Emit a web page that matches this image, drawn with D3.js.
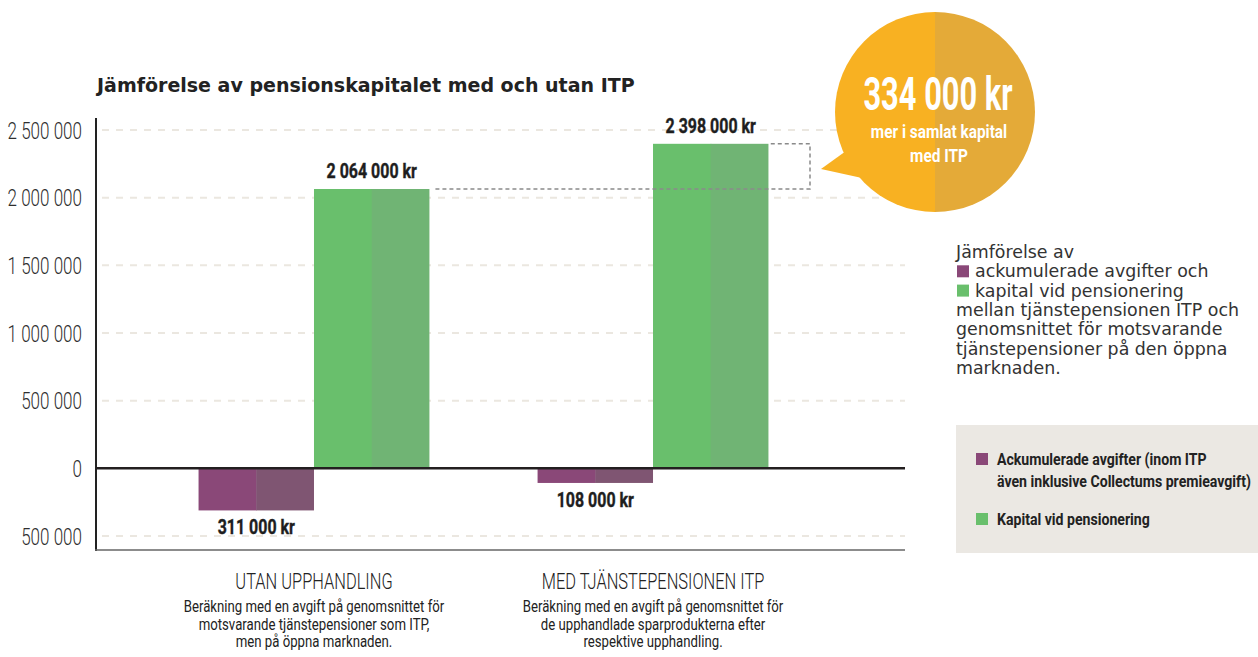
<!doctype html>
<html>
<head>
<meta charset="utf-8"/>
<title>Jämförelse av pensionskapitalet</title>
<script src="https://cdnjs.cloudflare.com/ajax/libs/d3/7.8.5/d3.min.js"></script>
<style>
  body { margin: 0; background: #fff; }
  svg { display: block; }
  .narrow { font-family: "Roboto", "DejaVu Sans Condensed", sans-serif; }
  .grid line { stroke: #ebe7e0; stroke-width: 2px; stroke-dasharray: 7,7; }
  .desc { font-family: "DejaVu Sans", sans-serif; font-size: 17.4px; fill: #333; }
</style>
</head>
<body>
<svg width="1258" height="657"></svg>
<script>
// data
var groups = ["UTAN UPPHANDLING", "MED TJÄNSTEPENSIONEN ITP"];
var series = ["Ackumulerade avgifter", "Kapital vid pensionering"];
var fees = [-311000, -108000];
var capital = [2064000, 2398000];
var valueLabels = [["311 000 kr", "2 064 000 kr"], ["108 000 kr", "2 398 000 kr"]];
var yTicks = [-500000, 0, 500000, 1000000, 1500000, 2000000, 2500000];
var groupNotes = [
  ["Beräkning med en avgift på genomsnittet för", "motsvarande tjänstepensioner som ITP,", "men på öppna marknaden."],
  ["Beräkning med en avgift på genomsnittet för", "de upphandlade sparprodukterna efter", "respektive upphandling."]
];
var difference = "334 000 kr";

var colors = { fee: ["#8a4878", "#7f5572"], cap: ["#69bf6c", "#70b474"] };

var svg = d3.select("svg");

var y = d3.scaleLinear().domain([-500000, 2500000]).range([536, 130]);
var x = d3.scaleBand().domain(groups).range([96, 871]).paddingInner(0.319).paddingOuter(0.3025);
var xs = d3.scaleBand().domain(series).range([0, x.bandwidth()]);

var fmt = function(v) { return d3.format(",")(Math.abs(v)).replace(/,/g, " "); };

// squeeze text sideways, the print font is a narrow one
function condense(sel, k) {
  sel.each(function() {
    var t = d3.select(this);
    var tx = +t.attr("x") || 0, ty = +t.attr("y") || 0;
    t.attr("x", 0).attr("y", 0).attr("transform", "translate(" + tx + "," + ty + ") scale(" + k + ",1)");
  });
}

// title
svg.append("text").attr("x", 97).attr("y", 92)
  .style("font-family", "'DejaVu Sans', sans-serif").style("font-weight", "bold")
  .style("font-size", "19px").style("fill", "#222")
  .text("Jämförelse av pensionskapitalet med och utan ITP");

// grid
var grid = svg.append("g").attr("class", "grid");
grid.selectAll("line").data(yTicks.filter(function(t) { return t !== 0; })).enter().append("line")
  .attr("x1", 102).attr("x2", 905)
  .attr("y1", function(d) { return y(d); }).attr("y2", function(d) { return y(d); });

// y axis
var yAxis = svg.append("g").attr("transform", "translate(96,0)")
  .call(d3.axisLeft(y).tickValues(yTicks).tickSize(0).tickPadding(14).tickFormat(fmt));
yAxis.select(".domain").remove();
yAxis.selectAll("text").attr("class", "narrow").attr("dy", null)
  .attr("dominant-baseline", "central")
  .style("font-size", "24px").style("font-weight", 300).style("fill", "#2e2e2e")
  .call(condense, 0.71);

svg.append("line").attr("x1", 96).attr("x2", 96).attr("y1", 118).attr("y2", 551)
  .style("stroke", "#222").style("stroke-width", 2);
svg.append("line").attr("x1", 95).attr("x2", 905).attr("y1", 550).attr("y2", 550)
  .style("stroke", "#666").style("stroke-width", 1.5);

// bars
var rows = groups.map(function(g, i) {
  return [
    { g: g, s: series[0], v: fees[i], c: colors.fee, label: valueLabels[i][0] },
    { g: g, s: series[1], v: capital[i], c: colors.cap, label: valueLabels[i][1] }
  ];
});
var flat = rows[0].concat(rows[1]);

var barG = svg.append("g");
var bar = barG.selectAll("g").data(flat).enter().append("g")
  .attr("transform", function(d) { return "translate(" + (x(d.g) + xs(d.s)) + ",0)"; });
bar.append("rect")
  .attr("x", 0).attr("width", xs.bandwidth() / 2 + 0.5)
  .attr("y", function(d) { return y(Math.max(0, d.v)); })
  .attr("height", function(d) { return Math.abs(y(d.v) - y(0)); })
  .style("fill", function(d) { return d.c[0]; });
bar.append("rect")
  .attr("x", xs.bandwidth() / 2).attr("width", xs.bandwidth() / 2)
  .attr("y", function(d) { return y(Math.max(0, d.v)); })
  .attr("height", function(d) { return Math.abs(y(d.v) - y(0)); })
  .style("fill", function(d) { return d.c[1]; });
bar.append("text").attr("class", "narrow")
  .attr("x", xs.bandwidth() / 2)
  .attr("y", function(d) { return d.v < 0 ? y(d.v) + 24 : y(d.v) - 11; })
  .attr("text-anchor", "middle")
  .style("font-weight", "bold").style("font-size", "21px").style("fill", "#1e1e1e")
  .style("stroke", "#1e1e1e").style("stroke-width", 0.4)
  .text(function(d) { return d.label; })
  .call(condense, 0.76);

// zero line
svg.append("line").attr("x1", 96).attr("x2", 905).attr("y1", y(0)).attr("y2", y(0))
  .style("stroke", "#231f20").style("stroke-width", 2.5);

// dashed difference bracket
var yLo = y(capital[0]), yHi = y(capital[1]);
var bx = 810;
svg.append("path")
  .attr("d", "M" + (x(groups[0]) + x.bandwidth() + 6) + "," + yLo + "H" + bx + "V" + yHi + "H" + (x(groups[1]) + x.bandwidth()))
  .style("fill", "none").style("stroke", "#8a8a8a").style("stroke-width", 1.5).style("stroke-dasharray", "4,3");

// bubble
var cx = 935, cy = 112, r = 100;
var bub = svg.append("g");
bub.append("path").attr("d", "M821,169 L846,151 L862,178 Z").style("fill", "#f8b122");
bub.append("path").attr("d", d3.arc().innerRadius(0).outerRadius(r).startAngle(Math.PI).endAngle(2 * Math.PI)())
  .attr("transform", "translate(" + cx + "," + cy + ")").style("fill", "#f8b122");
bub.append("path").attr("d", d3.arc().innerRadius(0).outerRadius(r).startAngle(0).endAngle(Math.PI)())
  .attr("transform", "translate(" + cx + "," + cy + ")").style("fill", "#e4aa38");
bub.append("text").attr("class", "narrow").attr("x", 938).attr("y", 110).attr("text-anchor", "middle")
  .style("font-size", "46px").style("font-weight", "bold").style("fill", "#fff").text(difference)
  .call(condense, 0.67);
bub.append("text").attr("class", "narrow").attr("x", 939).attr("y", 138).attr("text-anchor", "middle")
  .style("font-size", "19px").style("font-weight", "bold").style("fill", "#fff").text("mer i samlat kapital")
  .call(condense, 0.81);
bub.append("text").attr("class", "narrow").attr("x", 939).attr("y", 162).attr("text-anchor", "middle")
  .style("font-size", "19px").style("font-weight", "bold").style("fill", "#fff").text("med ITP")
  .call(condense, 0.81);

// description
var desc = [
  { t: "Jämförelse av" },
  { t: "ackumulerade avgifter och", c: colors.fee[0] },
  { t: "kapital vid pensionering", c: colors.cap[0] },
  { t: "mellan tjänstepensionen ITP och" },
  { t: "genomsnittet för motsvarande" },
  { t: "tjänstepensioner på den öppna" },
  { t: "marknaden." }
];
var dg = svg.append("g");
desc.forEach(function(d, i) {
  var by = 258 + i * 19.3;
  if (d.c) {
    dg.append("rect").attr("x", 957).attr("y", by - 12).attr("width", 12).attr("height", 12).style("fill", d.c);
  }
  dg.append("text").attr("class", "desc").attr("x", d.c ? 975 : 956).attr("y", by).text(d.t);
});

// legend
var lg = svg.append("g");
lg.append("rect").attr("x", 956).attr("y", 425).attr("width", 302).attr("height", 128).style("fill", "#ebe8e3");
var legendItems = [
  { lines: ["Ackumulerade avgifter (inom ITP", "även inklusive Collectums premieavgift)"], c: colors.fee[0], y: 465 },
  { lines: ["Kapital vid pensionering"], c: colors.cap[0], y: 525 }
];
legendItems.forEach(function(d) {
  lg.append("rect").attr("x", 976).attr("y", d.y - 12).attr("width", 12).attr("height", 12).style("fill", d.c);
  d.lines.forEach(function(l, j) {
    lg.append("text").attr("class", "narrow").attr("x", 997).attr("y", d.y + j * 22)
      .style("font-weight", "bold").style("font-size", "17px").style("fill", "#222").text(l)
      .call(condense, 0.83);
  });
});

// group labels
groups.forEach(function(g, i) {
  var gx = x(g) + x.bandwidth() / 2;
  svg.append("text").attr("class", "narrow").attr("x", gx).attr("y", 589).attr("text-anchor", "middle")
    .style("font-size", "22.5px").style("font-weight", 300).style("fill", "#222").text(g)
    .call(condense, 0.73);
  groupNotes[i].forEach(function(l, j) {
    svg.append("text").attr("class", "narrow").attr("x", gx).attr("y", 612 + j * 17.5).attr("text-anchor", "middle")
      .style("font-size", "16.5px").style("fill", "#222").text(l)
      .call(condense, 0.8);
  });
});
</script>
</body>
</html>
